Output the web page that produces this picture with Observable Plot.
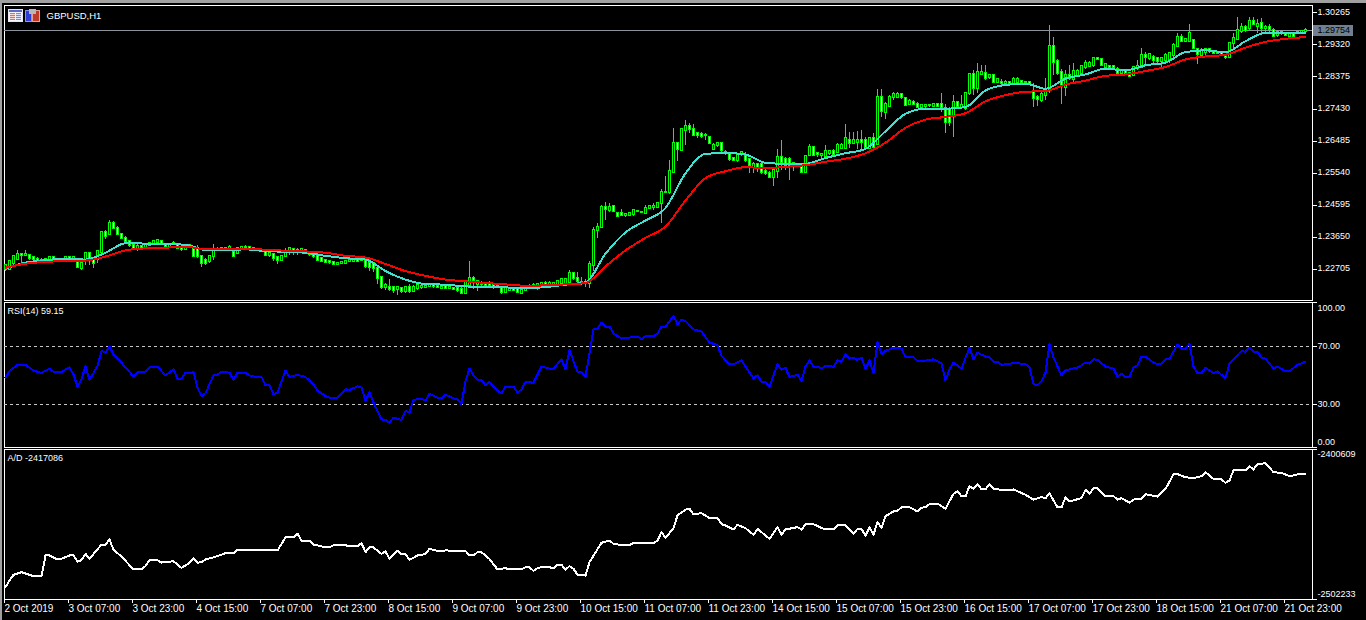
<!DOCTYPE html>
<html><head><meta charset="utf-8">
<script src="https://cdn.jsdelivr.net/npm/d3@7"></script>
<script src="https://cdn.jsdelivr.net/npm/@observablehq/plot@0.6"></script>
<style>
html,body{margin:0;padding:0;background:#000;width:1366px;height:620px;overflow:hidden}
#chart{position:relative;width:1366px;height:620px;background:#000}
#chart svg{position:absolute;left:0;overflow:visible;background:transparent}
.bar{position:absolute;background:#a0a0a0}
.ic{position:absolute;box-sizing:border-box}
</style></head><body><div id="chart">
<div class="bar" style="left:0;top:0;width:1366px;height:3px"></div>
<div class="bar" style="left:0;top:0;width:2px;height:620px"></div>
<div class="ic" style="left:8px;top:9px;width:15px;height:13px;border:1px solid #e4e8f4;background:#f4f4ff"></div>
<div class="ic" style="left:9px;top:10px;width:13px;height:2px;background:#5a6cc8"></div>
<div class="ic" style="left:10px;top:13px;width:5px;height:7px;background:repeating-linear-gradient(180deg,#e0705f 0 1px,#f8d8d0 1px 2px)"></div>
<div class="ic" style="left:16px;top:13px;width:5px;height:7px;background:repeating-linear-gradient(180deg,#7a8ad8 0 1px,#dde2f8 1px 2px)"></div>
<div class="ic" style="left:25px;top:10px;width:7px;height:12px;background:#2c3fd0;border:1px solid #8a94f0"></div>
<div class="ic" style="left:32px;top:10px;width:8px;height:12px;background:#c03a2c;border:1px solid #e8a090"></div>
<div class="ic" style="left:29px;top:9px;width:7px;height:5px;background:#b8b8b8"></div>
</div>
<script>
// Prices in units of 0.0001 (12270 = 1.22700), one value per hourly bar
const open=[12270,12271,12288,12300,12315,12312,12312,12307,12300,12298,
12296,12298,12305,12298,12300,12300,12305,12301,12290,12273,
12298,12317,12298,12300,12322,12379,12373,12406,12391,12374,
12361,12352,12342,12333,12339,12335,12342,12344,12349,12352,
12343,12339,12343,12344,12334,12329,12337,12332,12332,12310,
12298,12293,12308,12331,12329,12332,12332,12322,12319,12330,
12335,12335,12331,12329,12326,12325,12312,12315,12305,12298,
12310,12325,12329,12326,12327,12327,12322,12317,12312,12302,
12298,12294,12290,12285,12287,12289,12293,12294,12299,12296,
12294,12287,12287,12273,12246,12219,12219,12217,12213,12214,
12206,12217,12207,12215,12219,12217,12221,12226,12221,12216,
12222,12214,12216,12214,12212,12201,12224,12243,12228,12230,
12229,12226,12226,12217,12217,12204,12209,12214,12211,12201,
12209,12214,12217,12219,12223,12229,12224,12225,12227,12229,
12231,12233,12258,12245,12233,12230,12231,12284,12386,12395,
12454,12445,12456,12437,12436,12431,12431,12433,12442,12439,
12437,12449,12452,12452,12464,12498,12498,12557,12641,12621,
12680,12692,12682,12670,12668,12665,12660,12624,12635,12641,
12616,12609,12599,12592,12611,12606,12594,12572,12580,12580,
12559,12554,12543,12560,12601,12594,12596,12582,12574,12574,
12557,12606,12629,12611,12606,12604,12611,12618,12614,12628,
12628,12652,12643,12646,12652,12652,12626,12655,12639,12776,
12734,12752,12776,12778,12785,12773,12757,12763,12758,12749,
12750,12753,12752,12756,12758,12744,12741,12724,12761,12749,
12744,12788,12845,12803,12845,12847,12835,12842,12821,12822,
12817,12821,12819,12822,12824,12822,12822,12793,12778,12768,
12783,12798,12927,12883,12852,12808,12842,12829,12842,12847,
12866,12869,12871,12891,12889,12866,12867,12867,12861,12849,
12855,12849,12842,12862,12866,12901,12891,12896,12891,12883,
12886,12888,12901,12928,12953,12942,12942,12945,12917,12901,
12911,12918,12913,12908,12911,12901,12894,12935,12947,12972,
12982,12979,13002,12987,12994,12979,12984,12974,12960,12969,
12965,12958,12965,12965,12968,12972];
const close=[12283,12293,12308,12315,12311,12316,12303,12300,12298,12296,
12299,12305,12298,12300,12300,12305,12301,12305,12276,12288,
12317,12300,12288,12325,12379,12369,12406,12391,12373,12361,
12352,12342,12332,12339,12335,12342,12347,12352,12355,12343,
12338,12344,12347,12332,12329,12337,12341,12309,12309,12288,
12288,12309,12325,12331,12333,12332,12337,12309,12332,12335,
12337,12331,12334,12326,12323,12312,12317,12302,12298,12310,
12320,12332,12325,12327,12329,12327,12314,12309,12298,12295,
12290,12290,12285,12287,12291,12294,12297,12299,12294,12297,
12280,12278,12273,12245,12219,12224,12211,12209,12217,12207,
12219,12207,12219,12223,12222,12221,12226,12221,12217,12219,
12215,12219,12212,12209,12201,12232,12243,12237,12234,12226,
12224,12224,12221,12222,12204,12214,12214,12209,12204,12209,
12217,12221,12224,12226,12230,12224,12230,12229,12235,12240,
12240,12258,12245,12234,12233,12233,12285,12386,12395,12454,
12446,12454,12442,12428,12431,12433,12435,12443,12442,12439,
12449,12455,12456,12464,12498,12498,12559,12641,12623,12682,
12692,12682,12666,12666,12662,12665,12643,12636,12641,12621,
12611,12594,12592,12606,12616,12592,12577,12580,12572,12557,
12554,12541,12562,12601,12587,12577,12577,12574,12580,12555,
12603,12629,12606,12608,12609,12618,12618,12609,12636,12636,
12657,12643,12650,12652,12646,12631,12655,12631,12776,12736,
12757,12776,12785,12785,12778,12754,12765,12756,12749,12754,
12753,12753,12756,12751,12749,12704,12704,12761,12752,12754,
12790,12845,12803,12852,12852,12834,12842,12822,12829,12817,
12822,12819,12829,12831,12821,12822,12815,12773,12771,12785,
12798,12927,12881,12849,12812,12842,12832,12854,12854,12868,
12878,12878,12893,12888,12871,12873,12866,12864,12849,12857,
12847,12839,12866,12868,12901,12896,12904,12886,12883,12891,
12901,12906,12930,12955,12943,12947,12967,12920,12905,12915,
12918,12913,12906,12911,12903,12894,12937,12950,12974,12982,
12974,13002,12992,12992,12979,12984,12976,12958,12969,12965,
12960,12965,12958,12969,12972,12975.4];
const high=[12285,12295,12312,12327,12316,12327,12315,12310,12305,12302,
12302,12310,12310,12303,12303,12309,12309,12308,12302,12303,
12319,12322,12303,12327,12381,12386,12415,12413,12396,12376,
12368,12354,12347,12344,12341,12344,12350,12356,12358,12355,
12345,12346,12352,12347,12336,12340,12344,12339,12342,12312,
12303,12312,12345,12336,12335,12335,12340,12324,12337,12338,
12340,12337,12336,12332,12330,12329,12320,12317,12308,12312,
12332,12336,12332,12332,12332,12330,12325,12319,12317,12304,
12300,12296,12292,12289,12293,12297,12300,12302,12302,12300,
12297,12290,12289,12276,12248,12229,12240,12220,12220,12217,
12221,12227,12224,12229,12225,12224,12230,12230,12225,12222,
12224,12222,12218,12216,12219,12238,12293,12251,12238,12234,
12232,12236,12228,12226,12219,12217,12217,12217,12213,12212,
12220,12228,12230,12231,12233,12234,12234,12232,12239,12245,
12244,12268,12263,12261,12248,12240,12295,12395,12405,12458,
12469,12464,12459,12439,12446,12437,12438,12446,12444,12441,
12459,12459,12466,12469,12505,12545,12592,12685,12646,12685,
12709,12700,12698,12673,12675,12670,12662,12643,12646,12643,
12621,12612,12601,12612,12618,12616,12596,12587,12584,12582,
12567,12560,12567,12623,12651,12601,12601,12587,12584,12582,
12606,12638,12633,12616,12612,12636,12621,12623,12641,12643,
12698,12675,12675,12678,12680,12660,12658,12670,12800,12800,
12763,12783,12791,12791,12788,12775,12770,12768,12763,12758,
12758,12758,12760,12758,12788,12757,12749,12783,12766,12783,
12793,12847,12857,12876,12871,12871,12845,12845,12832,12829,
12827,12823,12835,12835,12827,12825,12824,12817,12783,12798,
12832,12989,12955,12888,12861,12857,12871,12876,12861,12871,
12886,12884,12896,12893,12891,12876,12869,12871,12866,12860,
12858,12851,12868,12886,12920,12911,12908,12901,12893,12896,
12906,12911,12935,12966,12962,12950,12992,12947,12922,12920,
12922,12920,12916,12914,12914,12903,12940,12965,13012,12994,
12989,13012,13012,13006,13009,12989,12992,12979,12974,12972,
12967,12967,12967,12972,12974,12979];
const low=[12266,12268,12283,12298,12288,12309,12298,12297,12295,12293,
12293,12295,12295,12296,12296,12298,12298,12298,12273,12268,
12283,12283,12275,12288,12320,12360,12371,12389,12371,12360,
12347,12337,12327,12325,12328,12330,12339,12340,12344,12340,
12335,12336,12340,12330,12325,12326,12334,12309,12303,12278,
12283,12288,12296,12328,12327,12329,12330,12305,12317,12328,
12333,12329,12327,12323,12321,12310,12307,12293,12286,12293,
12307,12312,12312,12312,12322,12324,12308,12302,12295,12292,
12288,12286,12282,12284,12285,12286,12291,12292,12292,12293,
12273,12265,12263,12226,12212,12209,12207,12199,12194,12201,
12201,12201,12204,12209,12211,12214,12217,12216,12214,12213,
12211,12211,12209,12204,12199,12199,12219,12212,12207,12214,
12220,12214,12212,12214,12197,12201,12206,12206,12201,12199,
12206,12211,12213,12209,12219,12221,12222,12219,12217,12224,
12228,12230,12238,12223,12223,12217,12214,12265,12363,12393,
12415,12440,12438,12425,12427,12425,12428,12428,12440,12437,
12435,12447,12444,12449,12407,12495,12493,12554,12590,12619,
12636,12670,12662,12657,12655,12652,12641,12621,12631,12616,
12606,12590,12590,12587,12602,12587,12554,12554,12557,12550,
12547,12538,12515,12538,12562,12562,12533,12559,12570,12552,
12554,12603,12603,12601,12599,12601,12606,12606,12611,12623,
12623,12626,12641,12623,12623,12626,12623,12623,12635,12717,
12712,12749,12768,12773,12771,12751,12754,12753,12744,12744,
12744,12749,12749,12748,12734,12672,12692,12658,12744,12744,
12739,12783,12783,12788,12842,12827,12829,12819,12817,12812,
12811,12817,12815,12817,12817,12819,12812,12749,12751,12763,
12768,12788,12842,12842,12758,12780,12827,12822,12837,12842,
12861,12866,12866,12886,12869,12864,12863,12859,12845,12847,
12845,12837,12839,12857,12863,12871,12886,12876,12878,12866,
12883,12876,12896,12925,12940,12938,12938,12917,12873,12896,
12901,12906,12904,12905,12901,12889,12891,12920,12945,12967,
12969,12974,12989,12965,12965,12965,12967,12955,12955,12960,
12958,12956,12956,12962,12966,12966];
// Moving averages read every fifth bar
const maBar=d3.range(0,326,5);
const maFast=[12273,12291,12298,12303,12300,12320,12348,12347,12345,12344,12328,12327,12330,12325,12323,12320,12311,
12304,12300,12266,12241,12228,12226,12221,12219,12218,12216,12219,12226,12233,12317,12380,12415,
12452,12554,12611,12614,12609,12585,12582,12582,12599,12613,12626,
12678,12729,12744,12744,12749,12798,12814,12818,12803,12833,12845,12862,12857,12872,12880,12911,12916,12910,12943,12967,12967,12967];
const maSlow=[12276,12288,12293,12296,12297,12309,12327,12333,12335,12338,12330,12330,12332,12329,12326,12324,12320,
12311,12306,12287,12266,12252,12241,12236,12231,12227,12223,12224,12227,12231,12280,12327,12364,
12397,12474,12540,12560,12572,12569,12573,12578,12588,12597,12613,
12644,12688,12712,12720,12731,12766,12784,12794,12796,12815,12827,12841,12845,12855,12867,12889,12898,12903,12924,12941,12950,12955];
// RSI turning points
const rsiBar=[0,1,3,5,7,9,11,12,14,16,17,18,19,20,21,23,24,25,26,27,29,30,32,33,35,36,38,40,42,43,44,45,46,47,48,49,50,52,53,54,56,57,58,60,61,63,64,65,66,67,68,70,71,73,75,77,78,80,81,83,85,86,88,89,90,91,92,94,95,96,97,99,100,101,102,104,105,106,108,109,110,112,113,114,115,116,117,118,119,120,121,123,124,125,127,128,129,130,132,134,136,137,139,140,141,143,144,145,147,148,149,150,151,152,154,156,158,159,160,162,163,164,165,167,168,
169,170,172,174,176,178,179,181,182,184,187,188,189,190,191,193,194,195,196,198,199,200,201,202,203,204,205,207,208,209,210,211,212,213,214,215,216,217,218,219,220,222,224,225,227,228,230,232,234,235,236,237,239,241,242,243,245,246,247,248,249,251,252,254,255,256,257,258,259,260,261,262,264,265,266,268,270,271,272,273,275,277,278,279,280,281,282,283,284,285,287,288,289,290,291,293,294,295,296,297,298,299,300,302,303,305,306,307,309,310,311,312,313,314,315,317,318,320,321,323,325];
const rsi=[48.2,52.8,56.9,56.9,53,51.4,54.4,52.1,52.1,55.3,50.5,42,47,56.2,46.6,56.2,66.6,65.4,69.6,64.3,58.5,55.1,49.1,51.9,52.3,55.3,55.8,49.8,53.9,47.5,47.5,51.6,51.2,51.9,41.3,35.5,37.4,49.8,50.2,52.3,51.6,46.6,51.6,51.6,49.8,48.4,48.6,42.9,42.9,36.7,37.8,53,48.6,50.2,48.6,43.6,39.2,35.5,34.4,34.4,40.1,39.7,42.2,41.3,32.1,38.3,30.9,19.4,19,17.1,20.6,19,25.2,24,32.8,33.7,32.3,37.1,34.4,33.7,36.4,33.9,33.2,29.8,45.9,54.4,49.8,46.6,46.6,42.9,45.2,39,37.4,42,42,37.8,40.1,45.2,44.7,55.8,54.4,54.4,60.8,53.9,67.3,52.1,52.1,48.9,81.5,82,86.1,83.3,83.3,78.7,75.1,75.8,76.5,74.6,76.9,76.9,78.5,83.3,83.3,90.7,85,
88,87.3,81.5,79.9,72.3,70.7,63.1,57.4,57.4,60.1,47.5,50,45.2,45.2,42,57.4,53.5,55.1,48.6,50.2,45.9,55.8,60.1,55.8,55.8,54.6,56.2,55.8,60.1,59,64.3,61.3,62,60.4,62,54.4,60.1,51.2,72.8,64.3,66.6,68.9,68.2,62.4,62.4,59.7,59.9,60.8,58,46.3,53.9,58.5,54.4,68.9,60.8,65.4,62.7,62.4,59.2,59,57.1,57.6,58.5,57.8,57.6,55.1,43.6,43.1,45.9,51.6,71.2,62,49.8,53.2,53.9,55.1,58.5,57.8,60.8,60.4,55.8,54.4,48.9,50.9,48.6,48.9,55.1,56.7,62.7,62.7,58.5,57.6,57.6,60.8,61.3,70.9,68.2,68.2,71.6,55.8,51.2,51.2,55.1,51.2,52.5,47.7,58,60.8,66.6,65.9,68.9,65.9,65.9,62,61.3,54.4,55.8,52.5,52.5,57.1,59.15];
// Accumulation/Distribution turning points
const adBar=[0,1,2,4,5,7,9,10,11,13,14,16,17,18,19,20,21,24,25,26,27,29,32,34,35,36,38,39,42,44,46,47,48,49,50,53,55,57,58,60,62,63,65,68,70,72,73,74,76,77,78,80,81,82,85,86,88,89,90,91,92,94,95,96,98,99,100,101,103,105,106,108,109,110,115,116,117,118,119,121,123,125,126,129,130,131,132,133,134,136,137,138,139,140,141,142,143,145,146,149,151,152,154,156,157,162,163,164,165,167,168,
170,171,172,174,176,178,179,180,182,183,185,187,188,191,193,194,195,198,199,200,202,204,205,207,208,210,212,213,214,215,216,217,218,219,220,222,223,224,226,228,229,230,231,233,235,237,238,239,240,241,242,243,244,245,246,247,250,252,255,257,259,260,261,263,264,265,266,269,270,271,272,273,275,277,278,279,281,282,284,285,288,290,292,293,295,297,299,300,302,304,305,306,307,310,311,312,313,315,317,319,321,323,325];
const ad=[-2493900,-2489300,-2485500,-2483700,-2484600,-2486400,-2486600,-2472400,-2472400,-2475100,-2474700,-2472400,-2472400,-2476500,-2475600,-2471300,-2474700,-2465000,-2465000,-2461600,-2468600,-2473100,-2481900,-2481900,-2479600,-2475600,-2475600,-2477200,-2476300,-2480800,-2477400,-2474200,-2477400,-2476900,-2475100,-2472900,-2470800,-2470800,-2468600,-2469000,-2469000,-2468400,-2468400,-2469000,-2460200,-2460200,-2457700,-2462300,-2462300,-2465200,-2465600,-2467000,-2466800,-2465400,-2465400,-2466300,-2466300,-2464000,-2470200,-2466800,-2467000,-2471300,-2469700,-2474700,-2469300,-2471500,-2471500,-2475400,-2472400,-2471500,-2467900,-2469300,-2469700,-2469000,-2469300,-2472400,-2472400,-2470200,-2470200,-2474700,-2481900,-2481000,-2481900,-2481900,-2480300,-2480500,-2482800,-2481000,-2480300,-2480300,-2481200,-2478700,-2478700,-2482100,-2479600,-2481400,-2485500,-2486000,-2476900,-2463800,-2462300,-2464500,-2465400,-2465400,-2464000,-2464000,-2462300,-2456600,-2460400,-2453900,-2445300,
-2441300,-2440800,-2444600,-2443700,-2447100,-2447100,-2451200,-2452100,-2454800,-2451600,-2453900,-2458400,-2454400,-2461100,-2453200,-2458200,-2454800,-2453200,-2454800,-2451400,-2451200,-2453700,-2454800,-2454800,-2451900,-2451900,-2457700,-2454400,-2454400,-2458900,-2453400,-2458200,-2449800,-2453900,-2445800,-2442600,-2442200,-2439700,-2439700,-2442600,-2440100,-2439700,-2437600,-2437200,-2440800,-2430600,-2428800,-2432400,-2432400,-2425400,-2427300,-2423900,-2427700,-2427700,-2424100,-2427300,-2428200,-2427700,-2431300,-2434500,-2432900,-2433600,-2430200,-2439900,-2439900,-2432900,-2435800,-2433600,-2427900,-2430600,-2426800,-2426800,-2432200,-2432200,-2434500,-2433600,-2436700,-2434500,-2434000,-2430900,-2432500,-2427300,-2417500,-2417300,-2419400,-2420000,-2418700,-2416000,-2420500,-2420900,-2423200,-2421600,-2414600,-2414600,-2411900,-2414200,-2410500,-2409900,-2416000,-2416400,-2418700,-2417500,-2417086];
// Axis ticks and labels
const priceTicks=[13026.5,12932,12837.5,12743,12648.5,12554,12459.5,12365,12270.5];
const lastPrice=12975.4;
const rsiLevels=[70,30];
const rsiTicks=[100,70,30,0];
const adTicks=[-2400609,-2502233];
const timeBars=[0,16,32,48,64,80,96,112,128,144,160,176,192,208,224,240,256,272,288,304,320];
const timeLabels=["2 Oct 2019","3 Oct 07:00","3 Oct 23:00","4 Oct 15:00","7 Oct 07:00","7 Oct 23:00","8 Oct 15:00","9 Oct 07:00","9 Oct 23:00","10 Oct 15:00","11 Oct 07:00","11 Oct 23:00","14 Oct 15:00","15 Oct 07:00","15 Oct 23:00","16 Oct 15:00","17 Oct 07:00","17 Oct 23:00","18 Oct 15:00","21 Oct 07:00","21 Oct 23:00"];

const FONT="'Liberation Sans',sans-serif", FS=9, crisp={shapeRendering:"crispEdges"};
const bars=d3.range(open.length);
const xScale={domain:[-0.25,326.75],axis:null};
const base={width:1366,marginLeft:4,marginRight:54,
  style:{background:"transparent",fontFamily:FONT,fontSize:FS+"px",color:"white",overflow:"visible"}};
const chart=document.getElementById("chart");
function place(svg,top){svg.style.top=top+"px";chart.appendChild(svg);}
const axisLabel={frameAnchor:"right",dx:5,textAnchor:"start",fontSize:FS};

const isUp=i=>close[i]>=open[i];
const main=Plot.plot({...base,height:301,marginTop:5,marginBottom:1,x:xScale,
  y:{domain:[12179.5,13048],axis:null},
  marks:[
    Plot.frame({stroke:"white",...crisp}),
    Plot.ruleY([lastPrice],{stroke:"#8c939b",...crisp}),
    Plot.ruleX(bars,{x:i=>i,y1:i=>low[i],y2:i=>high[i],stroke:"#00ff00",...crisp}),
    // candle outline: green block, one pixel wider than the inner body on every side
    Plot.rect(bars,{x1:i=>i-0.25,x2:i=>i+0.5,y1:i=>open[i],y2:i=>close[i],insetTop:-1,insetBottom:-1,fill:"#00ff00",...crisp}),
    Plot.rect(bars,{x1:i=>i,x2:i=>i+0.25,y1:i=>open[i],y2:i=>close[i],
      fill:i=>isUp(i)?"black":"white",...crisp}),
    Plot.line(maBar,{x:i=>i,y:(i,k)=>maFast[k],stroke:"#40e0d0",strokeWidth:2,curve:"monotone-x",...crisp}),
    Plot.line(maBar,{x:i=>i,y:(i,k)=>maSlow[k],stroke:"#ff0000",strokeWidth:2,curve:"monotone-x",...crisp}),
    Plot.text(priceTicks,{y:d=>d,text:d=>(d/1e4).toFixed(5),...axisLabel,dy:-1,fill:"white"}),
    Plot.axisY({anchor:"right",ticks:priceTicks,tickSize:4,stroke:"white",fill:"none",label:null,...crisp}),
    Plot.ruleY([lastPrice],{x1:327,x2:337,stroke:"#708090",strokeWidth:11,...crisp}),
    Plot.text([lastPrice],{y:d=>d,text:d=>(d/1e4).toFixed(5),...axisLabel,fill:"#000"}),
    Plot.text(["GBPUSD,H1"],{frameAnchor:"top-left",dx:42,dy:7,textAnchor:"start",fill:"white",fontSize:9.5})
  ]});
place(main,0);

const rsiPanel=Plot.plot({...base,height:148,marginTop:2,marginBottom:1,x:xScale,
  y:{domain:[0,100],axis:null},
  marks:[
    Plot.frame({stroke:"white",...crisp}),
    Plot.ruleY(rsiLevels,{stroke:"#c8c8c8",strokeDasharray:"3,3",...crisp}),
    Plot.line(rsiBar,{x:i=>i,y:(i,k)=>rsi[k],stroke:"#0000ff",strokeWidth:2,...crisp}),
    Plot.axisY({anchor:"right",ticks:rsiTicks,tickSize:4,stroke:"white",fill:"none",label:null,...crisp}),
    Plot.text(rsiTicks,{y:d=>d,text:d=>d.toFixed(2),...axisLabel,dy:5.5,fill:"white",filter:d=>d===100}),
    Plot.text(rsiTicks,{y:d=>d,text:d=>d.toFixed(2),...axisLabel,fill:"white",filter:d=>d===70||d===30}),
    Plot.text(rsiTicks,{y:d=>d,text:d=>d.toFixed(2),...axisLabel,dy:-5,fill:"white",filter:d=>d===0}),
    Plot.text(["RSI(14) 59.15"],{frameAnchor:"top-left",dx:3,dy:5,textAnchor:"start",fill:"white",fontSize:FS})
  ]});
place(rsiPanel,300);

const adPanel=Plot.plot({...base,height:173,marginTop:2,marginBottom:21,x:xScale,
  y:{domain:[adTicks[1],adTicks[0]],axis:null},
  marks:[
    Plot.frame({stroke:"white",...crisp}),
    Plot.line(adBar,{x:i=>i,y:(i,k)=>ad[k],stroke:"white",strokeWidth:2,...crisp}),
    Plot.axisY({anchor:"right",ticks:adTicks,tickSize:4,stroke:"white",fill:"none",label:null,...crisp}),
    Plot.text(adTicks,{y:d=>d,text:d=>String(d),...axisLabel,dy:5,fill:"white",filter:d=>d===adTicks[0]}),
    Plot.text(adTicks,{y:d=>d,text:d=>String(d),...axisLabel,dy:-5,fill:"white",filter:d=>d===adTicks[1]}),
    Plot.text(["A/D -2417086"],{frameAnchor:"top-left",dx:3,dy:5,textAnchor:"start",fill:"white",fontSize:FS}),
    Plot.axisX({ticks:timeBars,tickFormat:i=>timeLabels[timeBars.indexOf(i)],textAnchor:"start",
      tickSize:4,tickPadding:1,stroke:"white",fill:"white",label:null,dx:-1,fontSize:10,...crisp})
  ]});
place(adPanel,447);
</script></body></html>
